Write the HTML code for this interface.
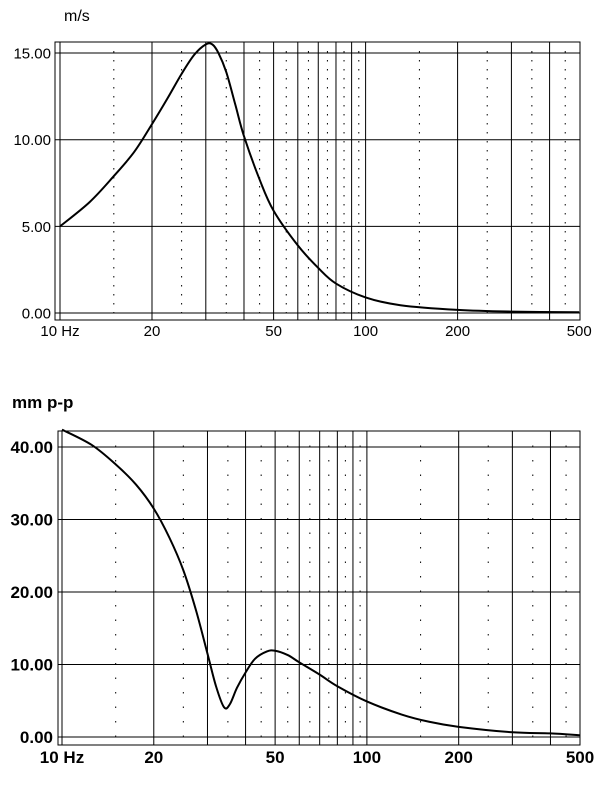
<!DOCTYPE html>
<html><head><meta charset="utf-8"><style>
html,body{margin:0;padding:0;background:#fff;width:614px;height:796px;overflow:hidden}
svg{display:block}
</style></head><body>
<svg id="s" width="614" height="796" xmlns="http://www.w3.org/2000/svg" font-family="Liberation Sans, Arial, sans-serif">
<text x="64" y="21" font-size="16">m/s</text>
<text x="12" y="408" font-size="17" font-weight="bold">mm p-p</text>
<g id="g"></g>
</svg>
<script>
var NS="http://www.w3.org/2000/svg",g=document.getElementById("g");
function el(t,a,txt){var e=document.createElementNS(NS,t);for(var k in a)e.setAttribute(k,a[k]);if(txt)e.textContent=txt;g.appendChild(e);return e;}
function chart(o){
 var X=function(f){return o.x10+o.dec*Math.log10(f)-o.dec;};
 var Y=function(v){return o.y0-o.py*v;};
 el("rect",{x:o.L,y:o.T,width:o.R-o.L,height:o.B-o.T,fill:"none",stroke:"#000","stroke-width":1});
 var solid=[10,20,30,40,50,60,70,80,90,100,200,300,400];
 solid.forEach(function(f){el("line",{x1:X(f),x2:X(f),y1:o.T,y2:o.B,stroke:"#000","stroke-width":1});});
 var dots=[15,25,35,45,55,65,75,85,95,150,250,350,450];
 dots.forEach(function(f){el("line",{x1:X(f),x2:X(f),y1:o.T+o.dd,y2:o.B,stroke:"#000","stroke-width":1,"stroke-dasharray":"1.5,"+(o.dd-1.5)});});
 o.yt.forEach(function(v){el("line",{x1:o.L,x2:o.R,y1:Y(v),y2:Y(v),stroke:"#000","stroke-width":1});
  el("text",{x:o.lx,y:Y(v)+o.fs*0.36,"font-size":o.fs,"font-weight":o.fw,"text-anchor":"end"},v.toFixed(2));});
 [[10,"10 Hz"],[20,"20"],[50,"50"],[100,"100"],[200,"200"],[500,"500"]].forEach(function(p){
  el("text",{x:X(p[0]),y:o.B+o.fs+1,"font-size":o.fs,"font-weight":o.fw,"text-anchor":"middle"},p[1]);});
 var P=o.d.map(function(p){return [X(p[0]),Y(p[1])];});
 var d="M"+P[0][0]+","+P[0][1];
 for(var i=0;i<P.length-1;i++){var p0=P[i-1]||P[i],p1=P[i],p2=P[i+1],p3=P[i+2]||p2;
  d+=" C"+(p1[0]+(p2[0]-p0[0])/6)+","+(p1[1]+(p2[1]-p0[1])/6)+" "+(p2[0]-(p3[0]-p1[0])/6)+","+(p2[1]-(p3[1]-p1[1])/6)+" "+p2[0]+","+p2[1];}
 el("path",{d:d,fill:"none",stroke:"#000","stroke-width":2});
}
chart({L:55,R:580,T:42,B:320,x10:60,dec:305.6,y0:313,py:17.33,yt:[0,5,10,15],lx:51,fs:15,fw:"normal",dd:9,
 d:[[10,5.0],[12.5,6.4],[15,7.9],[17.5,9.3],[20,10.9],[22.5,12.4],[25,13.8],[27.5,14.9],[30,15.5],[31.5,15.5],[33,15.0],[35,13.9],[37.5,12.0],[40,10.2],[45,7.7],[50,5.9],[60,3.9],[70,2.6],[80,1.7],[100,0.9],[130,0.45],[200,0.18],[300,0.08],[500,0.04]]});
chart({L:58,R:580,T:431,B:745,x10:62,dec:304.9,y0:737,py:7.25,yt:[0,10,20,30,40],lx:53,fs:17,fw:"bold",dd:14.5,
 d:[[10,42.4],[12.5,40.3],[15,37.6],[17.5,34.8],[20,31.5],[22.5,27.5],[25,23],[27.5,17.5],[30,11.5],[32,7],[34,4.1],[35.5,4.5],[37.5,6.8],[40,8.9],[43,10.8],[47,11.8],[50,11.9],[55,11.3],[60,10.3],[70,8.6],[80,7.0],[100,4.9],[130,3.1],[160,2.1],[200,1.4],[300,0.65],[400,0.5],[500,0.25]]});
</script>
</body></html>
